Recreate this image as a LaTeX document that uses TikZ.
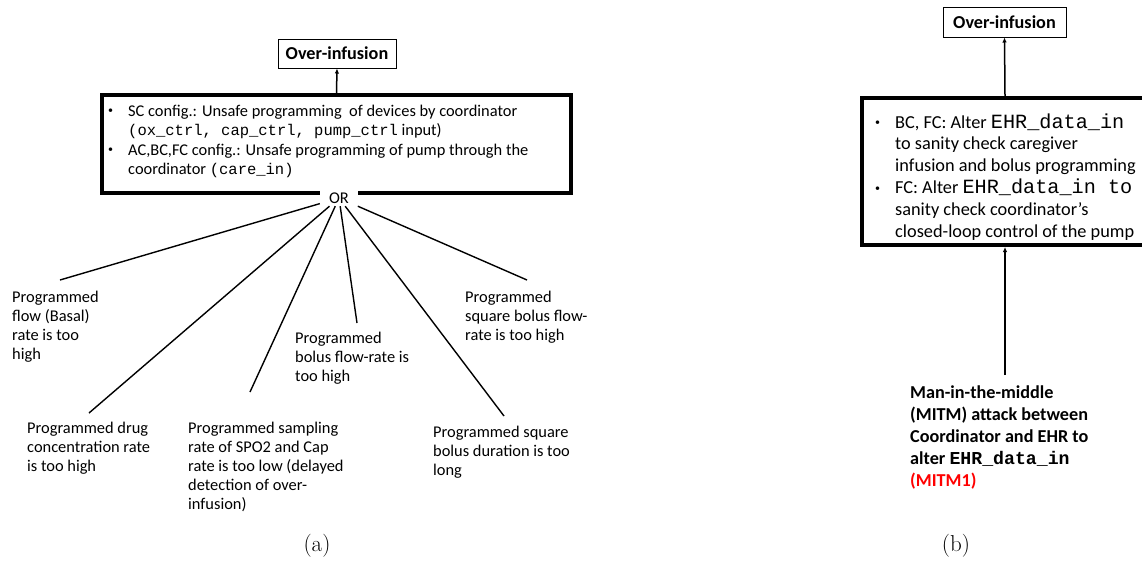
\documentclass[tikz,border=0pt]{standalone}
\usepackage{fontspec}
\usetikzlibrary{arrows.meta}
\newfontfamily\calib{Carlito}
\newfontfamily\courf{Liberation Mono}
% small list bullet
\newcommand\smallbul{\raisebox{2.2pt}{\fontsize{10}{10}\selectfont •}}

\tikzset{
  thickbox/.style={draw, line width=4pt, inner sep=0pt},
  thinbox/.style={draw, line width=1pt, inner sep=0pt},
  topevent/.style={thinbox, font=\calib\bfseries\fontsize{18.2}{22}\selectfont},
  leaf/.style={inner sep=0pt, anchor=base west, font=\calib\fontsize{16.4}{19}\selectfont},
  branch/.style={line width=1.4pt},
  arr/.style={line width=1.5pt, -{Latex[length=5pt,width=4.5pt]}},
  caption/.style={inner sep=0pt, font=\fontsize{23}{26}\selectfont},
}

\begin{document}
\begin{tikzpicture}[x=1pt, y=-1pt]
\useasboundingbox (0,0) rectangle (1142,560);
\clip (0,0) rectangle (1142,560);

% ---------- (a) unsafe programming tree ----------
\node[topevent, minimum width=118pt, minimum height=29pt] (oia) at (337,53.5) {Over-infusion};

\node[thickbox, minimum width=469pt, minimum height=98pt] (boxa) at (336.5,144) {};
\node[inner sep=0pt, anchor=base west, font=\calib\fontsize{16.4}{19.5}\selectfont] (texta) at (108,116)
  {\begin{tabular}[t]{@{}p{20pt}@{}l@{}}
   \smallbul & SC config.: Unsafe programming\ \ of devices by coordinator\\
     & {\courf\fontsize{15.5}{19.5}\selectfont (ox\_ctrl, cap\_ctrl, pump\_ctrl} input)\\
   \smallbul & AC,BC,FC config.: Unsafe programming of pump through the\\
     & coordinator {\courf\fontsize{15.5}{19.5}\selectfont (care\_in)}
   \end{tabular}};

\draw[arr] (boxa.north) -- (oia.south);

\node[fill=white, inner sep=0pt, minimum width=38pt, minimum height=16pt,
      font=\calib\fontsize{16.4}{19}\selectfont] (or) at (339,198) {OR};

% leaves
\node[leaf] (flow) at (12,302)
  {\begin{tabular}[t]{@{}l@{}}Programmed\\flow (Basal)\\rate is too\\high\end{tabular}};
\node[leaf] (drug) at (27,433)
  {\begin{tabular}[t]{@{}l@{}}Programmed drug\\concentration rate\\is too high\end{tabular}};
\node[leaf] (samp) at (188,433)
  {\begin{tabular}[t]{@{}l@{}}Programmed sampling\\rate of SPO2 and Cap\\rate is too low (delayed\\detection of over-\\infusion)\end{tabular}};
\node[leaf] (bolus) at (295,343)
  {\begin{tabular}[t]{@{}l@{}}Programmed\\bolus flow-rate is\\too high\end{tabular}};
\node[leaf] (sqdur) at (433,437)
  {\begin{tabular}[t]{@{}l@{}}Programmed square\\bolus duration is too\\long\end{tabular}};
\node[leaf] (sqflow) at (465,302)
  {\begin{tabular}[t]{@{}l@{}}Programmed\\square bolus flow-\\rate is too high\end{tabular}};

% free ends of the OR branches, just above each leaf
\coordinate (e1) at (60,280);
\coordinate (e2) at (89,413);
\coordinate (e3) at (250,392);
\coordinate (e4) at (357,323);
\coordinate (e5) at (504,416);
\coordinate (e6) at (527,280);
\foreach \e in {e1,e2,e3,e4,e5,e6} \draw[branch] (or) -- (\e);

\node[caption] (capa) at (317,546) {(a)};

% ---------- (b) MITM attack ----------
\node[topevent, minimum width=123pt, minimum height=30pt] (oib) at (1004.5,22) {Over-infusion};

\node[thickbox, minimum width=286pt, minimum height=147pt] (boxb) at (1005,171.5) {};
\node[inner sep=0pt, anchor=base west, font=\calib\fontsize{18.3}{21.8}\selectfont] (textb) at (875,128)
  {\begin{tabular}[t]{@{}p{20pt}@{}l@{}}
   \smallbul & BC, FC: Alter {\courf\fontsize{20.2}{21.8}\selectfont EHR\_data\_in}\\
     & to sanity check caregiver\\
     & infusion and bolus programming\\
   \smallbul & FC: Alter {\courf\fontsize{20.2}{21.8}\selectfont EHR\_data\_in to}\\
     & sanity check coordinator’s\\
     & closed-loop control of the pump
   \end{tabular}};

\draw[arr] (boxb.north) -- (oib.south);

\node[inner sep=0pt, anchor=base west, font=\calib\bfseries\fontsize{18.2}{22}\selectfont] (mitm) at (910,398)
  {\begin{tabular}[t]{@{}l@{}}Man-in-the-middle\\(MITM) attack between\\Coordinator and EHR to\\
   alter {\courf\bfseries EHR\_data\_in}\\\textcolor{red}{(MITM1)}\end{tabular}};

\coordinate (mtop) at (1005,375);
\draw[arr] (mtop) -- (boxb.south);

\node[caption] (capb) at (956,546) {(b)};
\end{tikzpicture}
\end{document}
